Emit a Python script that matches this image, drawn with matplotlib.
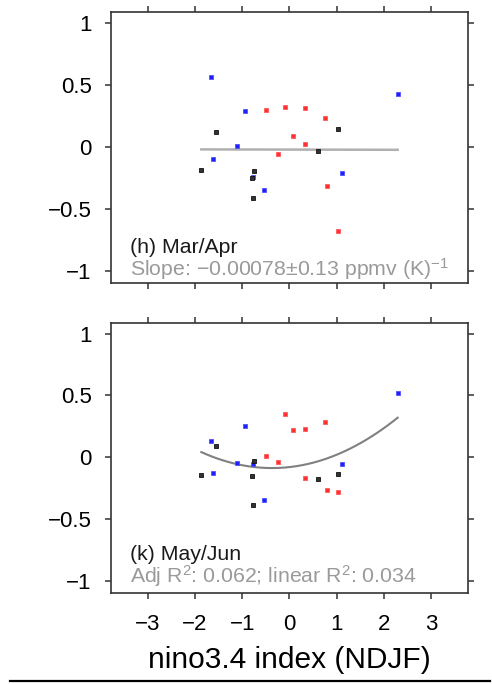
import numpy as np
import matplotlib.pyplot as plt
from matplotlib.lines import Line2D

plt.rcParams['font.family'] = ['Liberation Sans', 'DejaVu Sans']
plt.rcParams['mathtext.fontset'] = 'custom'
plt.rcParams['mathtext.rm'] = 'Liberation Sans'
plt.rcParams['mathtext.it'] = 'Liberation Sans:italic'

# nino3.4 index (NDJF) for each group of years
x_blue = [-1.655, -0.937, -1.106, -1.613, -0.776, -0.543, 1.114, 2.29]
x_black = [-1.55, -1.867, -0.755, -0.797, -0.768, 0.606, 1.03]
x_red = [-0.493, -0.085, 0.324, 0.754, 0.078, 0.324, -0.24, 0.80, 1.02]

# (h) Mar/Apr anomalies
h_blue = [0.56, 0.29, 0.008, -0.10, -0.242, -0.35, -0.21, 0.427]
h_black = [0.121, -0.188, -0.194, -0.255, -0.414, -0.035, 0.143]
h_red = [0.294, 0.323, 0.315, 0.234, 0.089, 0.024, -0.056, -0.314, -0.68]
h_slope, h_intercept = -0.00078, -0.024

# (k) May/Jun anomalies
k_blue = [0.130, 0.249, -0.050, -0.128, -0.058, -0.349, -0.053, 0.518]
k_black = [0.093, -0.144, -0.031, -0.153, -0.387, -0.179, -0.139]
k_red = [0.009, 0.346, 0.230, 0.281, 0.222, -0.166, -0.040, -0.268, -0.279]
k_quad = [0.0576, 0.0426, -0.0803]  # c2, c1, c0

fig = plt.figure(figsize=(4.92, 6.84), dpi=100)
ax1 = fig.add_axes([0.2256, 0.5863, 0.7256, 0.3962])
ax2 = fig.add_axes([0.2256, 0.1330, 0.7256, 0.3947])

x_all = x_blue + x_black + x_red
xfit = np.linspace(min(x_all), max(x_all), 200)


def style(ax, show_xlabels):
    ax.set_xlim(-3.78, 3.78)
    ax.set_ylim(-1.1, 1.086)
    ax.set_xticks([-3, -2, -1, 0, 1, 2, 3])
    ax.set_yticks([-1, -0.5, 0, 0.5, 1])
    ax.set_yticklabels(['\u22121', '\u22120.5', '0', '0.5', '1'])
    if show_xlabels:
        ax.set_xticklabels(['\u22123', '\u22122', '\u22121', '0', '1', '2', '3'])
    else:
        ax.set_xticklabels([])
    ax.tick_params(direction='out', length=4, width=1.1, color='#333333',
                   labelsize=16, top=True, right=True, pad=10)
    ax.tick_params(axis='x', pad=11)
    for s in ax.spines.values():
        s.set_linewidth(1.2)
        s.set_color('#333333')


def points(ax, yb, yk, yr):
    kw = dict(marker='s', linestyle='none', markersize=3.4, markeredgewidth=0.6)
    ax.plot(x_blue, yb, color='#2020ff', markeredgecolor='#5050ff', **kw)
    ax.plot(x_black, yk, color='#333333', markeredgecolor='#111111', **kw)
    ax.plot(x_red, yr, color='#ff3030', markeredgecolor='#ff5a5a', **kw)


# top panel
style(ax1, False)
ax1.plot(xfit, h_slope * xfit + h_intercept, color='#b0b0b0', lw=1.8, zorder=1)
points(ax1, h_blue, h_black, h_red)
ax1.text(0.053, 0.13, '(h) Mar/Apr', transform=ax1.transAxes, fontsize=15.3,
         color='#1a1a1a', va='center')
ax1.text(0.053, 0.05, r'Slope: $-$0.00078$\pm$0.13 ppmv (K)$^{-1}$',
         transform=ax1.transAxes, fontsize=15.3, color='#9a9a9a', va='center')

# bottom panel
style(ax2, True)
ax2.plot(xfit, np.polyval(k_quad, xfit), color='#808080', lw=1.5, zorder=1)
points(ax2, k_blue, k_black, k_red)
ax2.text(0.053, 0.142, '(k) May/Jun', transform=ax2.transAxes, fontsize=15.3,
         color='#1a1a1a', va='center')
ax2.text(0.053, 0.062, r'Adj R$^2$: 0.062; linear R$^2$: 0.034',
         transform=ax2.transAxes, fontsize=15.3, color='#9a9a9a', va='center')
ax2.set_xlabel('nino3.4 index (NDJF)', fontsize=21.5, labelpad=8)

# rule along the bottom of the figure
fig.add_artist(Line2D([0.02, 0.995], [0.0045, 0.0045], color='black', lw=1.6,
                      transform=fig.transFigure))

fig.savefig('out.png', dpi=100)
